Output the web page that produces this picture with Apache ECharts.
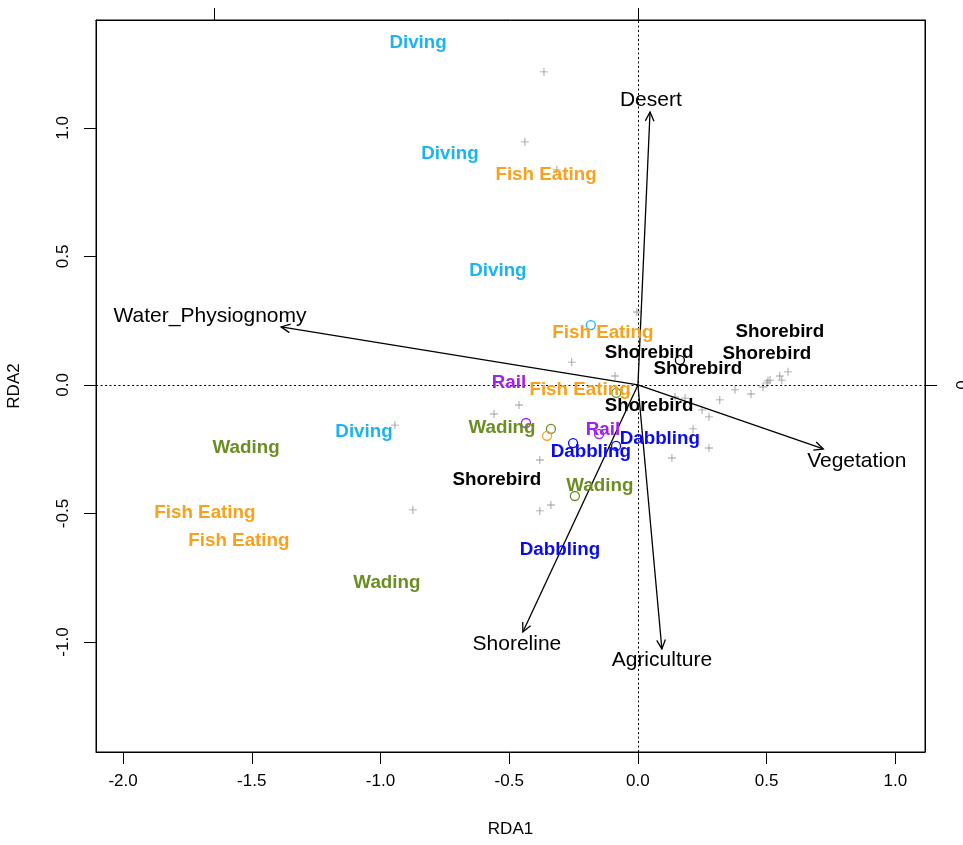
<!DOCTYPE html>
<html>
<head>
<meta charset="utf-8">
<script src="https://cdn.jsdelivr.net/npm/echarts@6/dist/echarts.min.js"></script>
<style>
html,body{margin:0;padding:0;background:#fff;}
#chart{width:963px;height:845px;}
</style>
</head>
<body>
<div id="chart"></div>
<script>
// ---- data ----
const xTicks = [-2.0, -1.5, -1.0, -0.5, 0.0, 0.5, 1.0];
const yTicks = [-1.0, -0.5, 0.0, 0.5, 1.0];
const topTicks = [-1.647, 0];
const rightTicks = [0];

// site scores (grey +)
const siteX = [-0.365, -0.439, -0.315, -0.004, -0.257, -0.089, -0.462, -0.559, -0.381, 0.132,
               0.276, 0.214, 0.276, 0.183, 0.144, 0.318, 0.377, 0.249, 0.439, 0.486,
               0.501, 0.505, 0.513, 0.551, 0.559, 0.583, -0.944, -0.874, -0.381, -0.338];
const siteY = [1.218, 0.946, 0.837, 0.284, 0.089, 0.035, -0.078, -0.113, -0.292, -0.284,
               -0.245, -0.171, -0.124, -0.051, -0.047, -0.058, -0.019, -0.097, -0.035, -0.008,
               0.008, 0.016, 0.019, 0.035, 0.019, 0.051, -0.156, -0.486, -0.490, -0.467];

// guild labels
const guildNames = ["Diving", "Diving", "Fish Eating", "Diving", "Fish Eating", "Shorebird",
                    "Shorebird", "Shorebird", "Shorebird", "Rail", "Fish Eating", "Shorebird",
                    "Wading", "Diving", "Rail", "Dabbling", "Dabbling", "Wading", "Shorebird",
                    "Wading", "Fish Eating", "Fish Eating", "Dabbling", "Wading"];
const guildX = [-0.854, -0.730, -0.357, -0.544, -0.136, 0.551, 0.043, 0.501, 0.233, -0.501,
                -0.225, 0.043, -0.528, -1.064, -0.136, 0.085, -0.183, -1.522, -0.548, -0.148,
                -1.682, -1.550, -0.303, -0.975];
const guildY = [1.331, 0.899, 0.817, 0.444, 0.202, 0.206, 0.125, 0.121, 0.062, 0.008,
                -0.019, -0.082, -0.167, -0.183, -0.175, -0.210, -0.261, -0.245, -0.370, -0.393,
                -0.498, -0.607, -0.642, -0.770];

// guild centroids (open circles)
const centroidGroup = ["Diving", "Shorebird", "Wading", "Rail", "Wading", "Fish Eating",
                       "Rail", "Dabbling", "Dabbling", "Wading"];
const centroidX = [-0.183, 0.163, -0.084, -0.435, -0.338, -0.353, -0.151, -0.252, -0.085, -0.245];
const centroidY = [0.233, 0.097, -0.031, -0.148, -0.171, -0.198, -0.191, -0.226, -0.237, -0.432];

// environmental arrows
const envNames = ["Desert", "Water_Physiognomy", "Vegetation", "Shoreline", "Agriculture"];
const envX = [0.047, -1.386, 0.720, -0.447, 0.093];
const envY = [1.062, 0.226, -0.249, -0.961, -1.027];
const envLabelX = [0.050, -1.662, 0.850, -0.470, 0.093];
const envLabelY = [1.109, 0.268, -0.296, -1.008, -1.070];

// ---- styles ----
const guildColor = {
  "Diving": "#1AB4F0",
  "Fish Eating": "#F9A11B",
  "Shorebird": "#000000",
  "Rail": "#A020F0",
  "Wading": "#6B8E23",
  "Dabbling": "#0A0AF0"
};
const FONT = "'Liberation Sans', Arial, Helvetica, sans-serif";
const X_MIN = -2.105, X_MAX = 1.115, Y_MIN = -1.428, Y_MAX = 1.42;

const chart = echarts.init(document.getElementById('chart'), null, {renderer: 'canvas'});

const plusPath = 'path://M4.45,0H5.55V4.45H10V5.55H5.55V10H4.45V5.55H0V4.45H4.45Z';

const series = [];

// dotted zero lines
series.push({
  type: 'scatter', data: [], silent: true,
  markLine: {
    silent: true, symbol: ['none', 'none'], animation: false,
    label: {show: false},
    lineStyle: {color: '#000', width: 1, type: [2, 2.5], opacity: 1},
    data: [{xAxis: 0}, {yAxis: 0}]
  }
});

// sites
series.push({
  type: 'scatter', silent: true, z: 2,
  symbol: plusPath, symbolSize: 8,
  itemStyle: {color: '#9a9a9a', opacity: 1},
  data: siteX.map((x, i) => [x, siteY[i]])
});

// centroids
series.push({
  type: 'scatter', silent: true, z: 3,
  symbol: 'circle', symbolSize: 9,
  itemStyle: {opacity: 1},
  data: centroidX.map((x, i) => ({
    value: [x, centroidY[i]],
    itemStyle: {color: 'rgba(0,0,0,0)', borderColor: guildColor[centroidGroup[i]], borderWidth: 1.3, opacity: 1}
  }))
});

// arrows
series.push({
  type: 'custom', silent: true, z: 4,
  data: envX.map((x, i) => [x, envY[i]]),
  renderItem: function (params, api) {
    const p0 = api.coord([0, 0]);
    const p1 = api.coord([api.value(0), api.value(1)]);
    const ang = Math.atan2(p1[1] - p0[1], p1[0] - p0[0]);
    const L = 10, A = Math.PI / 7;
    const h1 = [p1[0] - L * Math.cos(ang - A), p1[1] - L * Math.sin(ang - A)];
    const h2 = [p1[0] - L * Math.cos(ang + A), p1[1] - L * Math.sin(ang + A)];
    return {
      type: 'group',
      children: [
        {type: 'line', shape: {x1: p0[0], y1: p0[1], x2: p1[0], y2: p1[1]},
         style: {stroke: '#000', lineWidth: 1.3}},
        {type: 'polyline', shape: {points: [h1, p1, h2]},
         style: {stroke: '#000', lineWidth: 1.3, fill: null}}
      ]
    };
  }
});

// arrow labels
series.push({
  type: 'scatter', silent: true, z: 5,
  symbol: 'circle', symbolSize: 1,
  itemStyle: {color: 'rgba(0,0,0,0)', opacity: 1},
  label: {
    show: true, position: 'inside', color: '#000',
    fontFamily: FONT, fontSize: 21, fontWeight: 'normal',
    formatter: p => p.data[2]
  },
  data: envLabelX.map((x, i) => [x, envLabelY[i], envNames[i]])
});

// guild labels
series.push({
  type: 'scatter', silent: true, z: 6,
  symbol: 'circle', symbolSize: 1,
  itemStyle: {color: 'rgba(0,0,0,0)', opacity: 1},
  labelLayout: {hideOverlap: false},
  data: guildX.map((x, i) => ({
    value: [x, guildY[i], guildNames[i]],
    label: {
      show: true, position: 'inside',
      color: guildColor[guildNames[i]],
      fontFamily: FONT, fontSize: 18.8, fontWeight: 'bold',
      formatter: p => p.data.value[2]
    }
  }))
});

const axisLabelBase = {color: '#000', fontFamily: FONT, fontSize: 17};

chart.setOption({
  animation: false,
  backgroundColor: '#fff',
  grid: {left: 96, right: 38, top: 20, bottom: 93, outerBoundsMode: 'none', containLabel: false,
         show: true, borderColor: '#000', borderWidth: 1, backgroundColor: 'transparent'},
  xAxis: [
    {
      type: 'value', min: X_MIN, max: X_MAX, position: 'bottom',
      name: 'RDA1', nameLocation: 'middle', nameGap: 69,
      nameTextStyle: {color: '#000', fontFamily: FONT, fontSize: 17},
      axisLine: {show: true, onZero: false, lineStyle: {color: '#000', width: 1}},
      axisTick: {show: true, inside: false, length: 12, customValues: xTicks, lineStyle: {color: '#000'}},
      axisLabel: Object.assign({}, axisLabelBase, {customValues: xTicks, margin: 21, formatter: v => v.toFixed(1)}),
      splitLine: {show: false}
    },
    {
      type: 'value', min: X_MIN, max: X_MAX, position: 'top',
      axisLine: {show: true, onZero: false, lineStyle: {color: '#000', width: 1}},
      axisTick: {show: true, inside: false, length: 12, customValues: topTicks, lineStyle: {color: '#000'}},
      axisLabel: {show: false},
      splitLine: {show: false}
    }
  ],
  yAxis: [
    {
      type: 'value', min: Y_MIN, max: Y_MAX, position: 'left',
      name: 'RDA2', nameLocation: 'middle', nameGap: 73, nameRotate: 90,
      nameTextStyle: {color: '#000', fontFamily: FONT, fontSize: 17},
      axisLine: {show: true, onZero: false, lineStyle: {color: '#000', width: 1}},
      axisTick: {show: true, inside: false, length: 12, customValues: yTicks, lineStyle: {color: '#000'}},
      axisLabel: Object.assign({}, axisLabelBase, {customValues: yTicks, margin: 24, rotate: 90, formatter: v => v.toFixed(1)}),
      splitLine: {show: false}
    },
    {
      type: 'value', min: Y_MIN, max: Y_MAX, position: 'right',
      axisLine: {show: true, onZero: false, lineStyle: {color: '#000', width: 1}},
      axisTick: {show: true, inside: false, length: 12, customValues: rightTicks, lineStyle: {color: '#000'}},
      axisLabel: Object.assign({}, axisLabelBase, {customValues: rightTicks, margin: 30, rotate: 90, formatter: v => String(v)}),
      splitLine: {show: false}
    }
  ],
  series: series
});
</script>
</body>
</html>
